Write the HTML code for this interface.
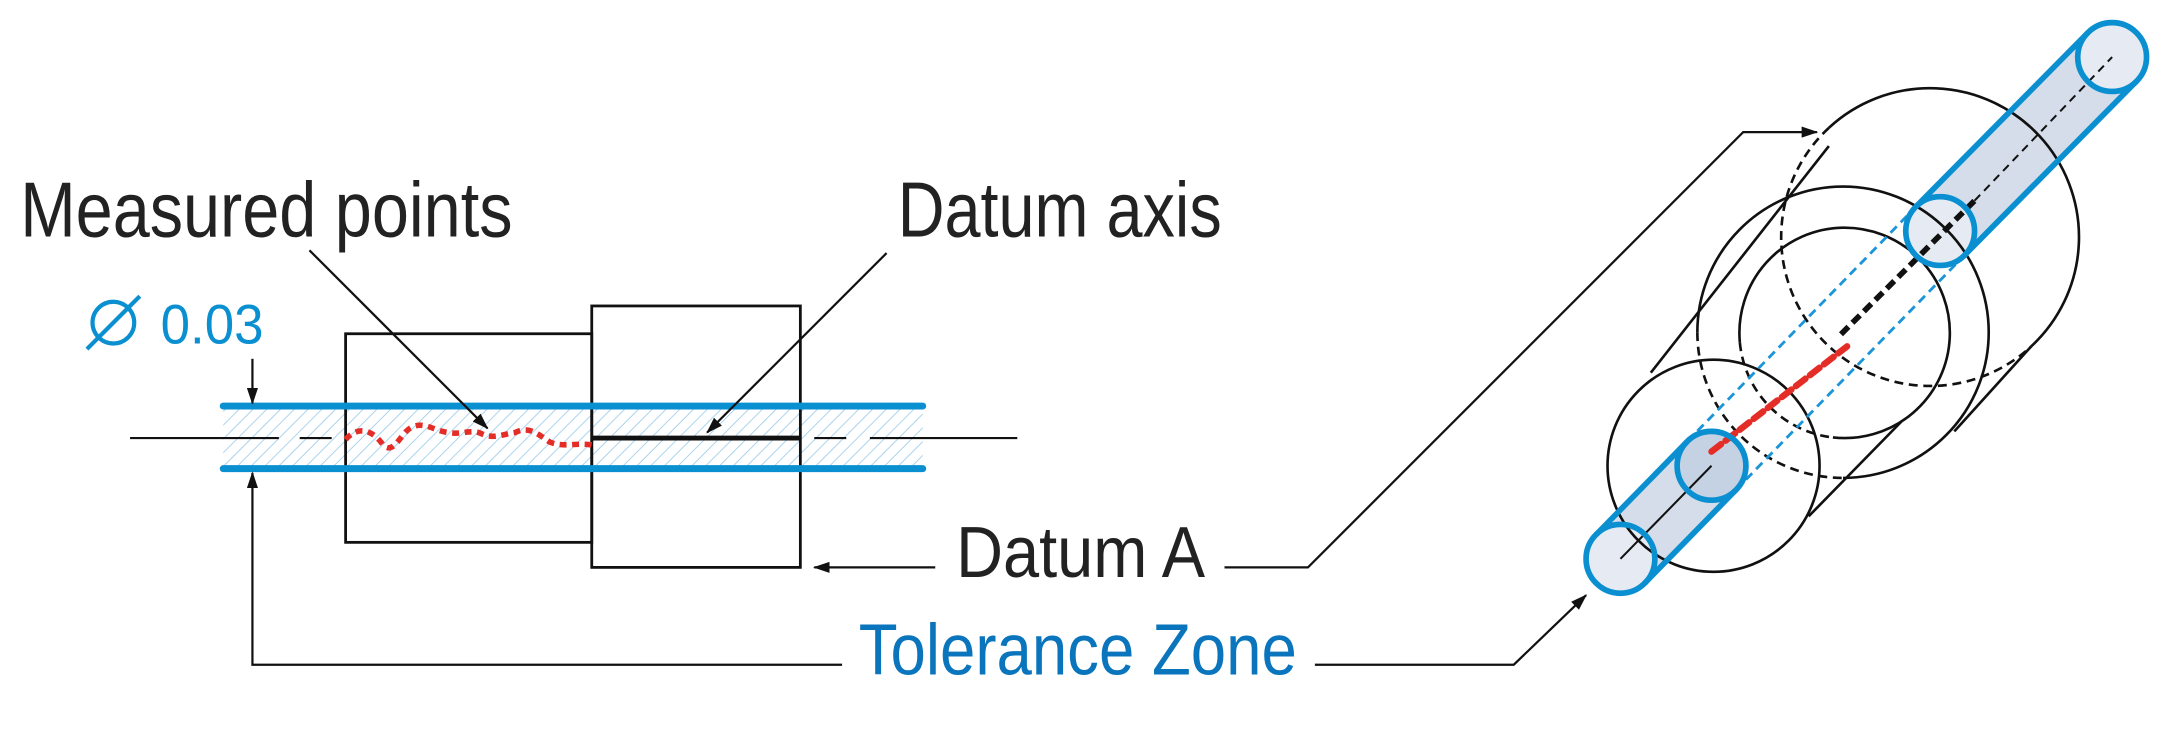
<!DOCTYPE html>
<html><head><meta charset="utf-8"><style>
html,body{margin:0;padding:0;background:#fff;}
svg{display:block;}
text{font-family:"Liberation Sans Narrow","Liberation Sans",sans-serif;}
</style></head><body>
<svg width="2182" height="744" viewBox="0 0 1568 535" xmlns="http://www.w3.org/2000/svg">
<defs>
<pattern id="h" width="7" height="7" patternUnits="userSpaceOnUse" patternTransform="rotate(45)">
<rect width="7" height="7" fill="#fff"/>
<line x1="0" y1="0" x2="0" y2="7" stroke="#a9d3ee" stroke-width="1.4"/>
</pattern>
<marker id="a" markerWidth="12" markerHeight="8" refX="11" refY="4" orient="auto" markerUnits="userSpaceOnUse">
<path d="M0,0 L12,4 L0,8 Z" fill="#111"/>
</marker>
</defs>

<!-- LEFT DRAWING -->
<rect x="160" y="292" width="503" height="45" fill="url(#h)"/>
<rect x="248" y="240" width="177" height="150" fill="none" stroke="#111" stroke-width="2"/>
<rect x="425" y="220" width="150" height="188" fill="none" stroke="#111" stroke-width="2"/>
<line x1="160" y1="292" x2="663" y2="292" stroke="#0a8fd1" stroke-width="5" stroke-linecap="round"/>
<line x1="160" y1="337" x2="663" y2="337" stroke="#0a8fd1" stroke-width="5" stroke-linecap="round"/>
<path d="M93 315 H200 M215 315 H238 M585 315 H608 M625 315 H731" stroke="#111" stroke-width="1.6"/>
<line x1="425" y1="315" x2="575" y2="315" stroke="#111" stroke-width="3.5"/>
<path d="M248 316 C258 305 268 310 275 320 C283 328 288 310 296 307 C305 303 312 310 322 311 C332 313 338 308 346 312 C354 316 362 312 370 311 C380 306 386 312 395 318 C405 322 415 318 425 320" fill="none" stroke="#e52d27" stroke-width="4" stroke-dasharray="5 4"/>
<line x1="222" y1="180" x2="350" y2="308" stroke="#111" stroke-width="1.6" marker-end="url(#a)"/>
<line x1="637" y1="182" x2="508" y2="311" stroke="#111" stroke-width="1.6" marker-end="url(#a)"/>
<line x1="181" y1="258" x2="181" y2="290" stroke="#111" stroke-width="1.6" marker-end="url(#a)"/>
<path d="M605 478 H181 V340" fill="none" stroke="#111" stroke-width="1.6" marker-end="url(#a)"/>
<line x1="672" y1="408" x2="585" y2="408" stroke="#111" stroke-width="1.6" marker-end="url(#a)"/>
<path d="M880 408 H940 L1253 95 H1306" fill="none" stroke="#111" stroke-width="1.6" marker-end="url(#a)"/>
<path d="M945 478 H1088 L1140 428" fill="none" stroke="#111" stroke-width="1.6" marker-end="url(#a)"/>

<text x="14" y="170" font-size="56" fill="#222" textLength="354" lengthAdjust="spacingAndGlyphs">Measured  points</text>
<text x="645" y="170" font-size="56" fill="#222" textLength="233" lengthAdjust="spacingAndGlyphs">Datum axis</text>
<circle cx="81" cy="232" r="15" fill="none" stroke="#0a8fd1" stroke-width="3"/>
<line x1="62" y1="251" x2="100" y2="213" stroke="#0a8fd1" stroke-width="3"/>
<text x="115" y="247" font-size="40" fill="#0a8fd1" textLength="74" lengthAdjust="spacingAndGlyphs">0.03</text>
<text x="687" y="415" font-size="52" fill="#222" textLength="179" lengthAdjust="spacingAndGlyphs">Datum A</text>
<text x="617" y="485" font-size="52" fill="#0a75bc" textLength="315" lengthAdjust="spacingAndGlyphs">Tolerance Zone</text>

<!-- RIGHT DRAWING (zoom coords) -->
<g transform="translate(1113.8,-7) scale(0.291)" fill="none" stroke="#111" stroke-width="6.5">
  <path d="M115 1345 L340 1115 L460 1235 L235 1465 Z" fill="#d4dde9" stroke="none"/>
  <circle cx="400" cy="1175" r="85" fill="#c5d2e4" stroke="none"/>
  <circle cx="175" cy="1405" r="85" fill="#e6ebf3" stroke="none"/>
  <path d="M905 535 L1330 105 L1450 225 L1025 655 Z" fill="#d4dde9" stroke="none"/>
  <circle cx="965" cy="595" r="85" fill="#e6ebf3" stroke="none"/>
  <circle cx="1390" cy="165" r="85" fill="#e6ebf3" stroke="none"/>

  <path d="M690 340 A360 360 0 1 1 1190 880"/>
  <path d="M690 340 A360 360 0 0 0 1190 880" stroke-dasharray="22 14"/>
  <path d="M365 845 A360 360 0 1 1 725 1205"/>
  <path d="M365 845 A360 360 0 0 0 725 1205" stroke-dasharray="22 14"/>
  <path d="M470 870 A260 260 0 1 1 700 1105"/>
  <path d="M470 870 A260 260 0 0 0 700 1105" stroke-dasharray="22 14"/>
  <circle cx="405" cy="1175" r="262"/>
  <line x1="250" y1="945" x2="690" y2="385"/>
  <line x1="640" y1="1300" x2="870" y2="1065"/>
  <line x1="1000" y1="1090" x2="1190" y2="880"/>

  <line x1="340" y1="1115" x2="905" y2="535" stroke="#1b95d8" stroke-width="7" stroke-dasharray="22 14"/>
  <line x1="460" y1="1235" x2="1025" y2="655" stroke="#1b95d8" stroke-width="7" stroke-dasharray="22 14"/>

  <line x1="175" y1="1405" x2="400" y2="1175" stroke-width="5"/>
  <line x1="1050" y1="520" x2="1390" y2="165" stroke-width="5" stroke-dasharray="20 14"/>
  <line x1="720" y1="850" x2="1050" y2="520" stroke-width="14" stroke-dasharray="26 14"/>
  <line x1="400" y1="1140" x2="735" y2="880" stroke="#e52d27" stroke-width="16" stroke-dasharray="30 14" stroke-linecap="round"/>

  <g stroke="#0a8fd1" stroke-width="14">
    <line x1="115" y1="1345" x2="340" y2="1115"/>
    <line x1="235" y1="1465" x2="460" y2="1235"/>
    <line x1="905" y1="535" x2="1330" y2="105"/>
    <line x1="1025" y1="655" x2="1450" y2="225"/>
    <circle cx="175" cy="1405" r="85"/>
    <circle cx="400" cy="1175" r="85"/>
    <circle cx="965" cy="595" r="85"/>
    <circle cx="1390" cy="165" r="85"/>
  </g>
</g>
</svg>
</body></html>
